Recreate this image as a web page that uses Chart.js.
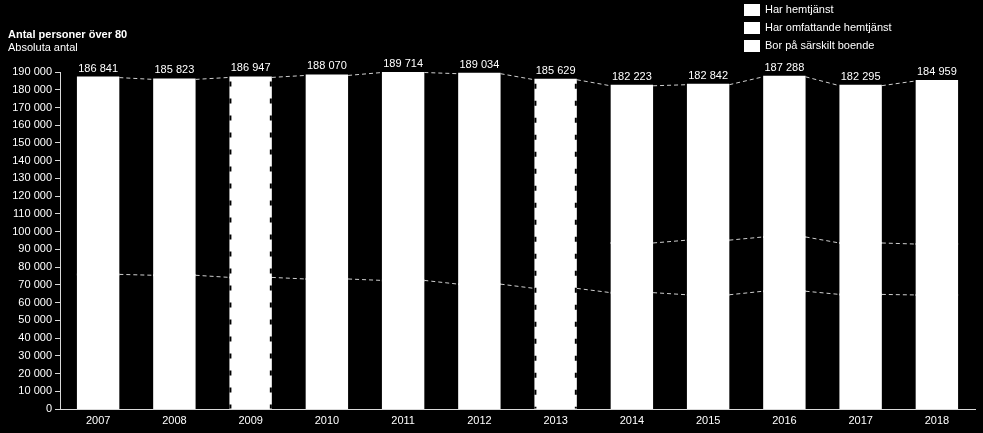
<!DOCTYPE html>
<html>
<head>
<meta charset="utf-8">
<script src="https://cdn.jsdelivr.net/npm/chart.js@4"></script>
<style>
  html, body { margin: 0; padding: 0; background: #000; }
  #wrap { width: 983px; height: 433px; }
</style>
</head>
<body>
<div id="wrap"><canvas id="chart" width="983" height="433"></canvas></div>
<script>
// categories
var years = ['2007', '2008', '2009', '2010', '2011', '2012', '2013', '2014', '2015', '2016', '2017', '2018'];
// totals shown above the bars
var totals = [186841, 185823, 186947, 188070, 189714, 189034, 185629, 182223, 182842, 187288, 182295, 184959];
// series, bottom to top
var borSarskilt = [75900, 75400, 74200, 73300, 72500, 70400, 68000, 65600, 64400, 66400, 64600, 64300];
var omfattande = [null, null, null, null, null, null, null, 28000, 30800, 30600, 29000, 28700];
var hemtjanst = [110941, 110423, 112747, 114770, 117214, 118634, 117629, 88623, 87642, 90288, 88695, 91959];
var yTicks = [0, 10000, 20000, 30000, 40000, 50000, 60000, 70000, 80000, 90000, 100000,
  110000, 120000, 130000, 140000, 150000, 160000, 170000, 180000, 190000];
var titleText = 'Antal personer över 80';
var subtitleText = 'Absoluta antal';
// bars drawn with a broken edge in the original
var dashedEdgeYears = ['2009', '2013'];

var FONT = '"Liberation Sans", Arial, sans-serif';

function fmt(v) {
  return String(v).replace(/\B(?=(\d{3})+(?!\d))/g, ' ');
}

var background = {
  id: 'background',
  beforeDraw: function (chart) {
    var ctx = chart.ctx;
    ctx.save();
    ctx.fillStyle = '#000';
    ctx.fillRect(0, 0, chart.width, chart.height);
    ctx.restore();
  }
};

// dashed "series lines" between neighbouring bars, like excel
var seriesLines = {
  id: 'seriesLines',
  afterDatasetsDraw: function (chart) {
    var ctx = chart.ctx;
    ctx.save();
    ctx.strokeStyle = '#cfcfcf';
    ctx.lineWidth = 1;
    ctx.setLineDash([4, 3]);
    chart.data.datasets.forEach(function (ds, di) {
      var meta = chart.getDatasetMeta(di);
      for (var i = 0; i < ds.data.length - 1; i++) {
        if (ds.data[i] == null || ds.data[i + 1] == null) continue;
        var a = meta.data[i], b = meta.data[i + 1];
        ctx.beginPath();
        ctx.moveTo(a.x + a.width / 2 + 1, a.y);
        ctx.lineTo(b.x - b.width / 2 - 1, b.y);
        ctx.stroke();
      }
    });

    // broken edges on some bars
    var topMeta = chart.getDatasetMeta(chart.data.datasets.length - 1);
    var baseMeta = chart.getDatasetMeta(0);
    ctx.strokeStyle = '#000';
    ctx.lineWidth = 2;
    ctx.setLineDash([5, 12]);
    dashedEdgeYears.forEach(function (yr) {
      var i = years.indexOf(yr);
      var top = topMeta.data[i], base = baseMeta.data[i];
      [top.x - top.width / 2, top.x + top.width / 2].forEach(function (x) {
        ctx.beginPath();
        ctx.moveTo(x, top.y + 4);
        ctx.lineTo(x, base.base);
        ctx.stroke();
      });
    });
    ctx.restore();
  }
};

var totalLabels = {
  id: 'totalLabels',
  afterDatasetsDraw: function (chart) {
    var ctx = chart.ctx;
    var meta = chart.getDatasetMeta(chart.data.datasets.length - 1);
    ctx.save();
    ctx.font = '11px ' + FONT;
    ctx.fillStyle = '#fff';
    ctx.textAlign = 'center';
    ctx.textBaseline = 'middle';
    totals.forEach(function (t, i) {
      var el = meta.data[i];
      ctx.fillText(fmt(t), el.x, el.y - 9);
    });
    ctx.restore();
  }
};

var titleAndLegend = {
  id: 'titleAndLegend',
  afterDraw: function (chart) {
    var ctx = chart.ctx;
    ctx.save();
    ctx.fillStyle = '#fff';
    ctx.textAlign = 'left';
    ctx.textBaseline = 'middle';
    ctx.font = 'bold 11px ' + FONT;
    ctx.fillText(titleText, 8, 35);
    ctx.font = '11px ' + FONT;
    ctx.fillText(subtitleText, 8, 48);

    // legend, top series first
    var sets = chart.data.datasets.slice().reverse();
    sets.forEach(function (ds, k) {
      var y = 10 + k * 18;
      ctx.fillStyle = ds.backgroundColor;
      ctx.fillRect(744, y - 6, 16, 12);
      ctx.fillStyle = '#fff';
      ctx.fillText(ds.label, 765, y);
    });
    ctx.restore();
  }
};

var ctx = document.getElementById('chart').getContext('2d');
new Chart(ctx, {
  type: 'bar',
  data: {
    labels: years,
    datasets: [
      { label: 'Bor på särskilt boende', data: borSarskilt, backgroundColor: '#ffffff' },
      { label: 'Har omfattande hemtjänst', data: omfattande, backgroundColor: '#ffffff' },
      { label: 'Har hemtjänst', data: hemtjanst, backgroundColor: '#ffffff' }
    ]
  },
  options: {
    responsive: false,
    animation: false,
    layout: { padding: { top: 72, left: 0, right: 8, bottom: 0 } },
    datasets: {
      bar: {
        barPercentage: 0.53,
        categoryPercentage: 1,
        borderWidth: 0,
        inflateAmount: 1
      }
    },
    plugins: {
      legend: { display: false },
      tooltip: { enabled: false },
      title: { display: false }
    },
    scales: {
      x: {
        stacked: true,
        grid: { display: false, drawTicks: false },
        border: { display: true, color: '#d9d9d9', width: 1 },
        ticks: { color: '#fff', font: { family: FONT, size: 11 }, padding: 5, maxRotation: 0 },
        afterFit: function (scale) { scale.height = 24; }
      },
      y: {
        stacked: true,
        min: 0,
        max: 190000,
        afterBuildTicks: function (scale) {
          scale.ticks = yTicks.map(function (v) { return { value: v }; });
        },
        grid: { drawOnChartArea: false, drawTicks: true, tickLength: 5, color: '#d9d9d9' },
        border: { display: true, color: '#d9d9d9', width: 1 },
        ticks: {
          color: '#fff',
          font: { family: FONT, size: 11 },
          padding: 3,
          callback: function (v) { return fmt(v); }
        },
        afterFit: function (scale) { scale.width = 60; }
      }
    }
  },
  plugins: [background, seriesLines, totalLabels, titleAndLegend]
});
</script>
</body>
</html>
